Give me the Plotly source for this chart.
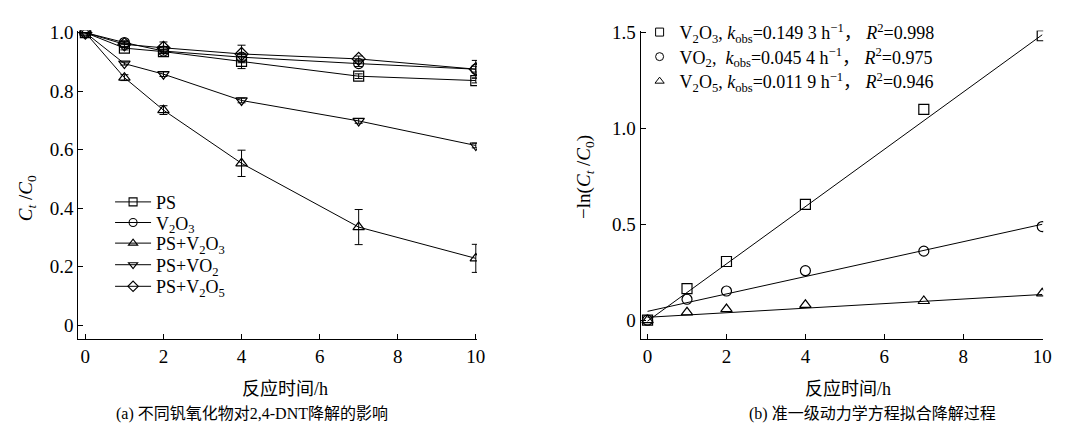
import plotly.graph_objects as go

# ---------------- data ----------------
time_h = [0, 1, 2, 4, 7, 10]

ps = [1.0, 0.947, 0.935, 0.902, 0.851, 0.836]
ps_err = [0, 0.006, 0.006, 0.025, 0.008, 0.008]
v2o3 = [1.0, 0.966, 0.937, 0.916, 0.894, 0.875]
v2o3_err = [0, 0.006, 0.006, 0.01, 0.01, 0.01]
ps_v2o3 = [1.0, 0.846, 0.735, 0.553, 0.335, 0.228]
ps_v2o3_err = [0, 0.01, 0.015, 0.045, 0.06, 0.048]
ps_vo2 = [1.0, 0.894, 0.858, 0.768, 0.698, 0.614]
ps_vo2_err = [0, 0.005, 0.008, 0.008, 0.008, 0.008]
ps_v2o5 = [1.0, 0.96, 0.948, 0.927, 0.91, 0.875]
ps_v2o5_err = [0, 0.01, 0.02, 0.03, 0.01, 0.03]

left_names = ["PS", "V<sub>2</sub>O<sub>3</sub>", "PS+V<sub>2</sub>O<sub>3</sub>",
              "PS+VO<sub>2</sub>", "PS+V<sub>2</sub>O<sub>5</sub>"]
left_symbols = ["square-open", "circle-open", "triangle-up-open",
                "triangle-down-open", "diamond-open"]

ln_v2o3 = [0.0, 0.164, 0.306, 0.604, 1.099, 1.483]
ln_vo2 = [0.0, 0.109, 0.152, 0.258, 0.36, 0.488]
ln_v2o5 = [0.0, 0.041, 0.058, 0.08, 0.10, 0.14]

fit_k = [0.1493, 0.0454, 0.0119]
fit_b = [-0.005, 0.046, 0.015]
fit_t = [0, 10]

right_names = [
    "V<sub>2</sub>O<sub>3</sub>, <i>k</i><sub>obs</sub>=0.149 3 h<sup>−1</sup>， <i>R</i><sup>2</sup>=0.998",
    "VO<sub>2</sub>,  <i>k</i><sub>obs</sub>=0.045 4 h<sup>−1</sup>， <i>R</i><sup>2</sup>=0.975",
    "V<sub>2</sub>O<sub>5</sub>, <i>k</i><sub>obs</sub>=0.011 9 h<sup>−1</sup>， <i>R</i><sup>2</sup>=0.946",
]
right_symbols = ["square-open", "circle-open", "triangle-up-open"]

x_ticks = [0, 2, 4, 6, 8, 10]
left_y_ticks = [0, 0.2, 0.4, 0.6, 0.8, 1.0]
left_y_text = ["0", "0.2", "0.4", "0.6", "0.8", "1.0"]
right_y_ticks = [0, 0.5, 1.0, 1.5]
right_y_text = ["0", "0.5", "1.0", "1.5"]

FONT = "'Liberation Serif', 'Times New Roman', 'Noto Sans CJK SC', serif"
W, H = 1076, 433


def px_x(p):
    return p / W


def px_y(p):
    return 1 - p / H


fig = go.Figure()

# left panel: one legend per entry to match the tight row spacing
left_legend_rows = [202, 223, 244, 266, 288]
left_series = [(ps, ps_err), (v2o3, v2o3_err), (ps_v2o3, ps_v2o3_err),
               (ps_vo2, ps_vo2_err), (ps_v2o5, ps_v2o5_err)]
layout_legends = {}
for i, ((vals, err), name, sym) in enumerate(zip(left_series, left_names, left_symbols)):
    lg = "legend" if i == 0 else f"legend{i + 3}"
    fig.add_trace(go.Scatter(
        x=time_h, y=vals, name=name, mode="lines+markers",
        line=dict(color="black", width=1),
        marker=dict(symbol=sym, size=10, color="black", line=dict(width=1.2, color="black")),
        error_y=dict(type="data", array=err, visible=True, color="black", thickness=1, width=4),
        xaxis="x", yaxis="y", showlegend=False,
    ))
    # legend-only entry (smaller key symbol as in the reference)
    fig.add_trace(go.Scatter(
        x=[None], y=[None], name=name, mode="lines+markers",
        line=dict(color="black", width=1),
        marker=dict(symbol=sym, size=8, color="black", line=dict(width=1.1, color="black")),
        xaxis="x", yaxis="y", legend=lg, showlegend=True,
    ))
    layout_legends[lg] = dict(
        x=px_x(111), y=px_y(left_legend_rows[i] - 23), xanchor="left", yanchor="top",
        bgcolor="rgba(0,0,0,0)", font=dict(family=FONT, size=18, color="black"),
        itemwidth=36,
    )

# right panel
right_legend_rows = [28, 53, 78]
right_series = [ln_v2o3, ln_vo2, ln_v2o5]
for i, (vals, name, sym, k, b) in enumerate(zip(right_series, right_names, right_symbols, fit_k, fit_b)):
    lg = f"legend{i + 2}" if i == 0 else f"legend{i + 8}"
    fig.add_trace(go.Scatter(
        x=fit_t, y=[b + k * t for t in fit_t], mode="lines",
        line=dict(color="black", width=1), showlegend=False,
        xaxis="x2", yaxis="y2", hoverinfo="skip",
    ))
    fig.add_trace(go.Scatter(
        x=time_h, y=vals, name=name, mode="markers",
        marker=dict(symbol=sym, size=10, color="black", line=dict(width=1.2, color="black")),
        xaxis="x2", yaxis="y2", showlegend=False,
    ))
    fig.add_trace(go.Scatter(
        x=[None], y=[None], name=name, mode="markers",
        marker=dict(symbol=sym, size=8, color="black", line=dict(width=1, color="black")),
        xaxis="x2", yaxis="y2", legend=lg, showlegend=True,
    ))
    layout_legends[lg] = dict(
        x=px_x(645), y=px_y(right_legend_rows[i] - 22), xanchor="left", yanchor="top",
        bgcolor="rgba(0,0,0,0)", font=dict(family=FONT, size=18, color="black"),
        itemwidth=30,
    )

axis_common = dict(
    showline=True, linecolor="black", linewidth=1.2,
    ticks="inside", ticklen=5, tickwidth=1.2, tickcolor="black",
    showgrid=False, zeroline=False,
    tickfont=dict(family=FONT, size=19, color="black"),
)

fig.update_layout(
    width=W, height=H,
    margin=dict(l=0, r=0, t=0, b=0),
    paper_bgcolor="white", plot_bgcolor="white",
    font=dict(family=FONT, color="black"),
    xaxis=dict(domain=[px_x(79), px_x(481)], range=[-0.18, 10.03],
               tickvals=x_ticks, anchor="y", **axis_common),
    yaxis=dict(domain=[px_y(337), px_y(23)], range=[-0.047, 1.007],
               tickvals=left_y_ticks, ticktext=left_y_text, anchor="x", **axis_common),
    xaxis2=dict(domain=[px_x(646), px_x(1052)], range=[-0.176, 10.025],
                tickvals=x_ticks, anchor="y2", **axis_common),
    yaxis2=dict(domain=[px_y(337), px_y(23)], range=[-0.097, 1.51],
                tickvals=right_y_ticks, ticktext=right_y_text, anchor="x2", **axis_common),
    showlegend=True,
    **layout_legends,
)

ann_font = dict(family=FONT, size=18, color="black")
annotations = [
    dict(text="反应时间/h", x=px_x(287), y=px_y(388), font=ann_font),
    dict(text="反应时间/h", x=px_x(855), y=px_y(388), font=ann_font),
    dict(text="(a) 不同钒氧化物对2,4-DNT降解的影响", x=px_x(254), y=px_y(414),
         font=dict(family=FONT, size=16, color="black")),
    dict(text="(b) 准一级动力学方程拟合降解过程", x=px_x(880), y=px_y(414),
         font=dict(family=FONT, size=16, color="black")),
    dict(text="<i>C</i><sub><i>t</i></sub> /<i>C</i><sub>0</sub>", x=px_x(28), y=px_y(194),
         textangle=-90, font=dict(family=FONT, size=19, color="black")),
    dict(text="−ln(<i>C</i><sub><i>t</i></sub> /<i>C</i><sub>0</sub>)", x=px_x(590), y=px_y(172),
         textangle=-90, font=dict(family=FONT, size=19, color="black")),
]
for a in annotations:
    a.update(xref="paper", yref="paper", showarrow=False, xanchor="center", yanchor="middle")
fig.update_layout(annotations=annotations)

fig.write_html("out.html")
